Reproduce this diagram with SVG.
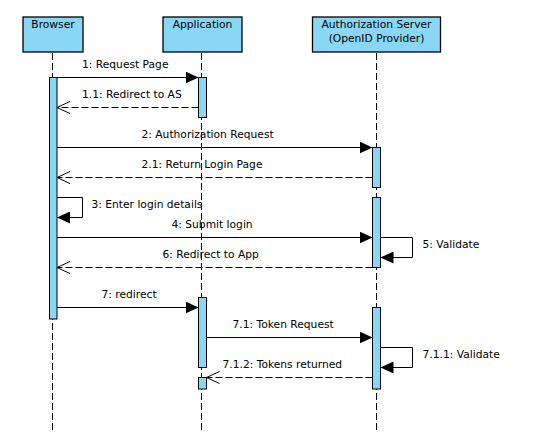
<svg xmlns="http://www.w3.org/2000/svg" width="534" height="432" viewBox="0 0 534 432">
<style>
.box{fill:#8ad7f5;stroke:#000;stroke-width:1.3}
.act{fill:#8ad7f5;stroke:#000;stroke-width:1}
.life{stroke:#000;stroke-width:1;stroke-dasharray:7 3;fill:none}
.msg{stroke:#000;stroke-width:1;fill:none}
.ret{stroke:#000;stroke-width:1;fill:none;stroke-dasharray:7 3}
text{font-family:"DejaVu Sans","Liberation Sans",sans-serif;font-size:10.7px;fill:#000}
.c{text-anchor:middle}
</style>
<defs>
<marker id="fill" markerWidth="14" markerHeight="12" refX="13" refY="6" orient="auto" markerUnits="userSpaceOnUse">
<path d="M0,0 L13,6 L0,12 Z" fill="#000"/>
</marker>
<marker id="open" markerWidth="14" markerHeight="14" refX="13" refY="7" orient="auto" markerUnits="userSpaceOnUse">
<path d="M0,1 L13,7 L0,13" fill="none" stroke="#000" stroke-width="1"/>
</marker>
</defs>
<g id="lifelines">
<line class="life" x1="52.5" y1="53" x2="52.5" y2="432"/>
<line class="life" x1="201.5" y1="53" x2="201.5" y2="432"/>
<line class="life" x1="376.5" y1="53" x2="376.5" y2="432"/>
</g>
<g id="browser">
<rect class="box" x="23" y="17" width="60" height="35"/>
<text class="c" x="53" y="28">Browser</text>
</g>
<g id="application">
<rect class="box" x="163" y="17" width="79" height="35"/>
<text class="c" x="202.5" y="28">Application</text>
</g>
<g id="authserver">
<rect class="box" x="312.5" y="17" width="128" height="35"/>
<text class="c" x="376.5" y="28">Authorization Server</text>
<text class="c" x="376.5" y="41.5">(OpenID Provider)</text>
</g>
<g id="activations">
<rect class="act" x="49.5" y="77.5" width="7.5" height="241.5"/>
<rect class="act" x="198.5" y="77.5" width="8" height="40"/>
<rect class="act" x="198.5" y="297.5" width="8" height="70"/>
<rect class="act" x="198.5" y="377.5" width="8" height="11.5"/>
<rect class="act" x="372.5" y="147.5" width="8" height="40"/>
<rect class="act" x="372.5" y="197.5" width="8" height="70"/>
<rect class="act" x="372.5" y="307.5" width="8" height="81.5"/>
</g>
<g id="connectors">
<line class="msg" x1="57" y1="77.5" x2="198.5" y2="77.5" marker-end="url(#fill)"/>
<line class="ret" x1="198.5" y1="107.5" x2="57" y2="107.5" marker-end="url(#open)"/>
<line class="msg" x1="57" y1="147.5" x2="372.5" y2="147.5" marker-end="url(#fill)"/>
<line class="ret" x1="372.5" y1="177.5" x2="57" y2="177.5" marker-end="url(#open)"/>
<polyline class="msg" points="57,197.5 82.5,197.5 82.5,217.5 57,217.5" marker-end="url(#fill)"/>
<line class="msg" x1="57" y1="237.5" x2="372.5" y2="237.5" marker-end="url(#fill)"/>
<polyline class="msg" points="380.5,237.5 412.5,237.5 412.5,257.5 380.5,257.5" marker-end="url(#fill)"/>
<line class="ret" x1="372.5" y1="267.5" x2="57" y2="267.5" marker-end="url(#open)"/>
<line class="msg" x1="57" y1="307.5" x2="198.5" y2="307.5" marker-end="url(#fill)"/>
<line class="msg" x1="206.5" y1="337.5" x2="372.5" y2="337.5" marker-end="url(#fill)"/>
<polyline class="msg" points="380.5,347.5 412.5,347.5 412.5,367.5 380.5,367.5" marker-end="url(#fill)"/>
<line class="ret" x1="372.5" y1="377.5" x2="206.5" y2="377.5" marker-end="url(#open)"/>
</g>
<g id="labels">
<text x="82" y="67.5">1: Request Page</text>
<text x="82" y="97.5">1.1: Redirect to AS</text>
<text x="141.5" y="137.5">2: Authorization Request</text>
<text x="141.5" y="167.5">2.1: Return Login Page</text>
<text x="91.5" y="207.5">3: Enter login details</text>
<text x="171.5" y="227.5">4: Submit login</text>
<text x="422.5" y="247.5">5: Validate</text>
<text x="162.5" y="257.5">6: Redirect to App</text>
<text x="101.5" y="297.5">7: redirect</text>
<text x="232.5" y="327.5">7.1: Token Request</text>
<text x="422.5" y="357.5">7.1.1: Validate</text>
<text x="222.5" y="367.5">7.1.2: Tokens returned</text>
</g>
</svg>
